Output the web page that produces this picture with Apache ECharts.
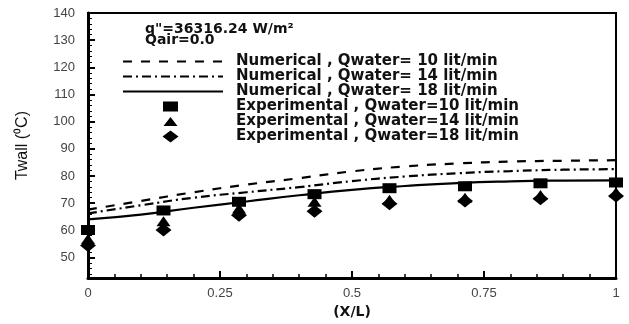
<!DOCTYPE html>
<html>
<head>
<meta charset="utf-8">
<script src="https://cdn.jsdelivr.net/npm/echarts@6/dist/echarts.min.js"></script>
<style>html,body{margin:0;padding:0;background:#fff}#c{width:629px;height:324px}</style>
</head>
<body>
<div id="c"></div>
<script>
// Numerical curves (X/L sampled)
const xNum = [0, 0.1, 0.2, 0.3, 0.4, 0.5, 0.6, 0.7, 0.8, 0.9, 1];
const num10 = [67.6, 70.8, 74.0, 76.8, 79.2, 81.7, 83.5, 84.6, 85.3, 85.6, 85.8];
const num14 = [66.2, 69.2, 72.0, 74.0, 75.9, 78.1, 79.8, 81.0, 81.8, 82.3, 82.5];
const num18 = [64.0, 65.8, 68.3, 70.6, 72.9, 74.9, 76.3, 77.4, 78.0, 78.3, 78.4];
// Experimental points
const xExp = [0, 0.143, 0.286, 0.429, 0.571, 0.714, 0.857, 1];
const exp10 = [60.1, 67.3, 70.5, 73.3, 75.5, 76.2, 77.3, 77.6];
const exp14 = [56.8, 63.3, 68.0, 70.5, 71.2, 72.0, 73.0, 74.0];
const exp18 = [54.4, 60.1, 65.5, 67.0, 69.8, 70.8, 71.6, 72.6];
const names = [
  'Numerical , Qwater= 10 lit/min',
  'Numerical , Qwater= 14 lit/min',
  'Numerical , Qwater= 18 lit/min',
  'Experimental , Qwater=10 lit/min',
  'Experimental , Qwater=14 lit/min',
  'Experimental , Qwater=18 lit/min'
];
const annot1 = 'q"=36316.24 W/m²';
const annot2 = 'Qair=0.0';

const pair = (xs, ys) => xs.map((x, i) => [x, ys[i]]);
const chart = echarts.init(document.getElementById('c'), null, {renderer: 'canvas'});
const lineS = (name, ys, type) => ({
  name, type: 'line', data: pair(xNum, ys), smooth: true, symbol: 'none', z: 2,
  lineStyle: {color: '#000', width: 2.2, type}, itemStyle: {color: '#000'}
});
const scat = (name, ys, symbol, size) => ({
  name, type: 'scatter', data: pair(xExp, ys), symbol, symbolSize: size, z: 3,
  itemStyle: {color: '#000', opacity: 1}
});
// legend icon shapes inside a 100x12 box (tiny corner anchors keep the box size)
const anchors = 'M0,0 L0.05,0 L0.05,0.05 Z M100,12 L99.95,12 L99.95,11.95 Z ';
const iconRect = 'path://' + anchors + 'M40,1 L55,1 L55,11 L40,11 Z';
const iconTri = 'path://' + anchors + 'M47.5,1.5 L54.5,10.5 L40.5,10.5 Z';
const iconDia = 'path://' + anchors + 'M47.5,0 L55.5,6 L47.5,12 L39.5,6 Z';
const noSym = {color: 'rgba(0,0,0,0)', borderWidth: 0};
chart.setOption({
  animation: false,
  backgroundColor: '#fff',
  grid: {left: 88, right: 13, top: 13, bottom: 37, show: true, borderColor: '#000', borderWidth: 2, backgroundColor: 'transparent'},
  xAxis: {
    type: 'value', min: 0, max: 1, interval: 0.25,
    name: '(X/L)', nameLocation: 'middle', nameGap: 24,
    nameTextStyle: {fontFamily: 'DejaVu Sans', fontSize: 14, fontWeight: 'bold', color: '#111'},
    axisLine: {lineStyle: {color: '#000', width: 3}},
    axisTick: {inside: true, length: 7, lineStyle: {color: '#000', width: 2}},
    minorTick: {show: true, splitNumber: 5, length: 4, lineStyle: {color: '#000', width: 1.5}},
    axisLabel: {fontFamily: 'Liberation Sans', fontSize: 13, color: '#444', margin: 9,
      formatter: v => String(+v.toFixed(2))},
    splitLine: {show: false}
  },
  yAxis: {
    type: 'value', min: 42.4, max: 140, splitNumber: 10,
    name: 'Twall (⁰C)', nameLocation: 'middle', nameGap: 57, nameRotate: 90,
    nameTextStyle: {fontFamily: 'Liberation Sans', fontSize: 16, color: '#111'},
    axisLine: {lineStyle: {color: '#000', width: 3}},
    axisTick: {inside: true, length: 7, lineStyle: {color: '#000', width: 2}},
    minorTick: {show: true, splitNumber: 5, length: 4, lineStyle: {color: '#000', width: 1}},
    axisLabel: {fontFamily: 'Liberation Sans', fontSize: 13, color: '#444', margin: 13, showMinLabel: false},
    splitLine: {show: false}
  },
  legend: {
    orient: 'vertical', left: 117, top: 49, itemWidth: 100, itemHeight: 12, itemGap: 0,
    data: [
      {name: names[0], itemStyle: noSym},
      {name: names[1], itemStyle: noSym},
      {name: names[2], itemStyle: noSym},
      {name: names[3], icon: iconRect},
      {name: names[4], icon: iconTri},
      {name: names[5], icon: iconDia}
    ],
    textStyle: {fontFamily: 'DejaVu Sans', fontSize: 15, fontWeight: 'bold', color: '#111', lineHeight: 15, padding: [0, 0, 0, 8]},
    selectedMode: false
  },
  graphic: [
    {type: 'text', left: 145, top: 22, style: {text: annot1, font: 'bold 14px "DejaVu Sans"', fill: '#111'}},
    {type: 'text', left: 145, top: 33, style: {text: annot2, font: 'bold 14px "DejaVu Sans"', fill: '#111'}}
  ],
  series: [
    lineS(names[0], num10, [9, 9]),
    lineS(names[1], num14, [9, 4, 2, 4]),
    lineS(names[2], num18, 'solid'),
    scat(names[3], exp10, 'rect', [14, 10]),
    scat(names[4], exp14, 'triangle', [14, 10]),
    scat(names[5], exp18, 'diamond', [16, 13])
  ]
});
</script>
</body>
</html>
